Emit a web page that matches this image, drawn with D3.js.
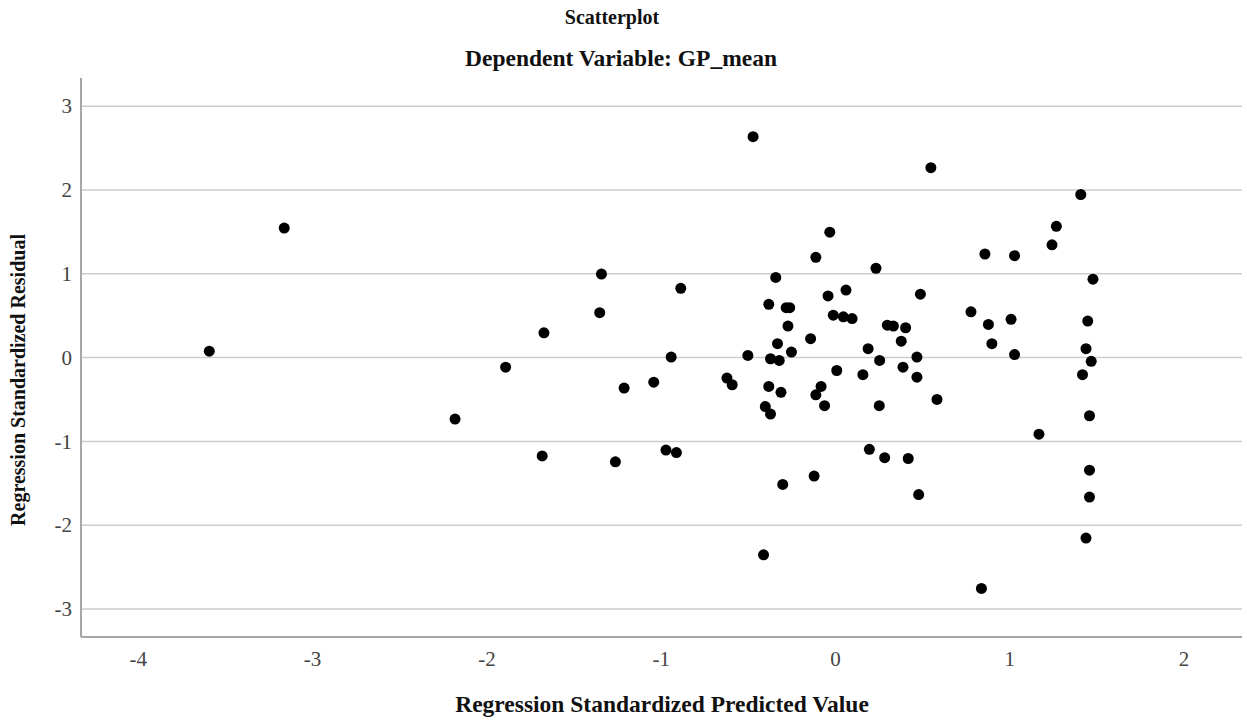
<!DOCTYPE html>
<html>
<head>
<meta charset="utf-8">
<script src="https://cdn.jsdelivr.net/npm/d3@7"></script>
<style>
  body { margin: 0; background: #fff; }
  svg { display: block; }
  .tick text { font-family: "Liberation Serif", serif; font-size: 21px; fill: #444; }
  .title { font-family: "Liberation Serif", serif; font-weight: bold; font-size: 23.5px; fill: #111; }
</style>
</head>
<body>
<div id="chart"></div>
<script>
var width = 1247,
    height = 720,
    margin = {top: 78, right: 5, bottom: 83, left: 81};

// predicted (x) and residual (y)
var predicted = [
  -3.59, -3.16, -2.18, -1.89, -1.67, -1.68, -1.34, -1.35, -1.21, -1.26,
  -1.04, -0.885, -0.94, -0.97, -0.91, -0.62, -0.59, -0.47, -0.50, -0.41,
  -0.38, -0.34, -0.33, -0.37, -0.32, -0.38, -0.31, -0.40, -0.37, -0.30,
  -0.28, -0.26, -0.27, -0.25, -0.14, -0.11, -0.12, -0.11, -0.08, -0.06,
  -0.04, -0.03, -0.01, 0.01, 0.048, 0.063, 0.098, 0.16, 0.19, 0.197,
  0.235, 0.256, 0.254, 0.285, 0.30, 0.335, 0.38, 0.39, 0.405, 0.42,
  0.47, 0.47, 0.48, 0.49, 0.55, 0.585, 0.78, 0.84, 0.86, 0.88,
  0.90, 1.01, 1.03, 1.03, 1.17, 1.245, 1.27, 1.41, 1.42, 1.44,
  1.45, 1.47, 1.48, 1.46, 1.46, 1.46, 1.44
];
var residual = [
  0.07, 1.54, -0.74, -0.12, 0.29, -1.18, 0.99, 0.53, -0.37, -1.25,
  -0.30, 0.82, 0.00, -1.11, -1.14, -0.25, -0.33, 2.63, 0.02, -2.36,
  0.63, 0.95, 0.16, -0.02, -0.04, -0.35, -0.42, -0.59, -0.68, -1.52,
  0.59, 0.59, 0.37, 0.06, 0.22, 1.19, -1.42, -0.45, -0.35, -0.58,
  0.73, 1.49, 0.50, -0.16, 0.48, 0.80, 0.46, -0.21, 0.10, -1.10,
  1.06, -0.04, -0.58, -1.20, 0.38, 0.37, 0.19, -0.12, 0.35, -1.21,
  0.00, -0.24, -1.64, 0.75, 2.26, -0.505, 0.54, -2.76, 1.23, 0.39,
  0.16, 0.45, 1.21, 0.03, -0.92, 1.34, 1.56, 1.94, -0.21, 0.10,
  0.43, -0.05, 0.93, -0.70, -1.35, -1.67, -2.16
];

var xTicks = [-4, -3, -2, -1, 0, 1, 2];
var yTicks = [-3, -2, -1, 0, 1, 2, 3];

var points = predicted.map(function(d, i) { return [d, residual[i]]; });

var innerW = width - margin.left - margin.right,
    innerH = height - margin.top - margin.bottom;

var x = d3.scaleLinear().domain([-4.326, 2.335]).range([0, innerW]);
var y = d3.scaleLinear().domain([-3.34, 3.33]).range([innerH, 0]);

// plain hyphen like the original, not the unicode minus
var fmt = function(d) { return String(d); };

var svg = d3.select('#chart').append('svg')
    .attr('width', width)
    .attr('height', height);

svg.append('text').attr('class', 'title')
    .attr('x', 612).attr('y', 24)
    .attr('text-anchor', 'middle')
    .style('font-size', '20px')
    .text('Scatterplot');

svg.append('text').attr('class', 'title')
    .attr('x', 621).attr('y', 66)
    .attr('text-anchor', 'middle')
    .text('Dependent Variable: GP_mean');

var g = svg.append('g')
    .attr('transform', 'translate(' + margin.left + ',' + margin.top + ')');

// horizontal grid + y labels
var yAxis = g.append('g')
    .call(d3.axisLeft(y).tickValues(yTicks).tickSize(-innerW).tickPadding(9).tickFormat(fmt));
yAxis.select('.domain').remove();
yAxis.selectAll('.tick line').attr('stroke', '#cdcdcd').attr('stroke-width', 1.5);
yAxis.selectAll('.tick text').attr('dy', '0.34em');

// x labels
var xAxis = g.append('g')
    .attr('transform', 'translate(0,' + innerH + ')')
    .call(d3.axisBottom(x).tickValues(xTicks).tickSize(0).tickPadding(14).tickFormat(fmt));
xAxis.select('.domain').remove();

// axis lines
g.append('line')
    .attr('x1', 0).attr('x2', 0).attr('y1', 0).attr('y2', innerH)
    .attr('stroke', '#a6a6a6').attr('stroke-width', 2);
g.append('line')
    .attr('x1', 0).attr('x2', innerW).attr('y1', innerH).attr('y2', innerH)
    .attr('stroke', '#a6a6a6').attr('stroke-width', 2);

// points
g.append('g').selectAll('circle')
  .data(points)
  .enter().append('circle')
    .attr('cx', function(d) { return x(d[0]); })
    .attr('cy', function(d) { return y(d[1]); })
    .attr('r', 5.5)
    .attr('fill', '#000');

// axis titles
svg.append('text').attr('class', 'title')
    .attr('x', 662).attr('y', 712)
    .attr('text-anchor', 'middle')
    .text('Regression Standardized Predicted Value');

svg.append('text').attr('class', 'title')
    .attr('transform', 'translate(25,380) rotate(-90)')
    .attr('text-anchor', 'middle')
    .style('font-size', '20px')
    .text('Regression Standardized Residual');
</script>
</body>
</html>
